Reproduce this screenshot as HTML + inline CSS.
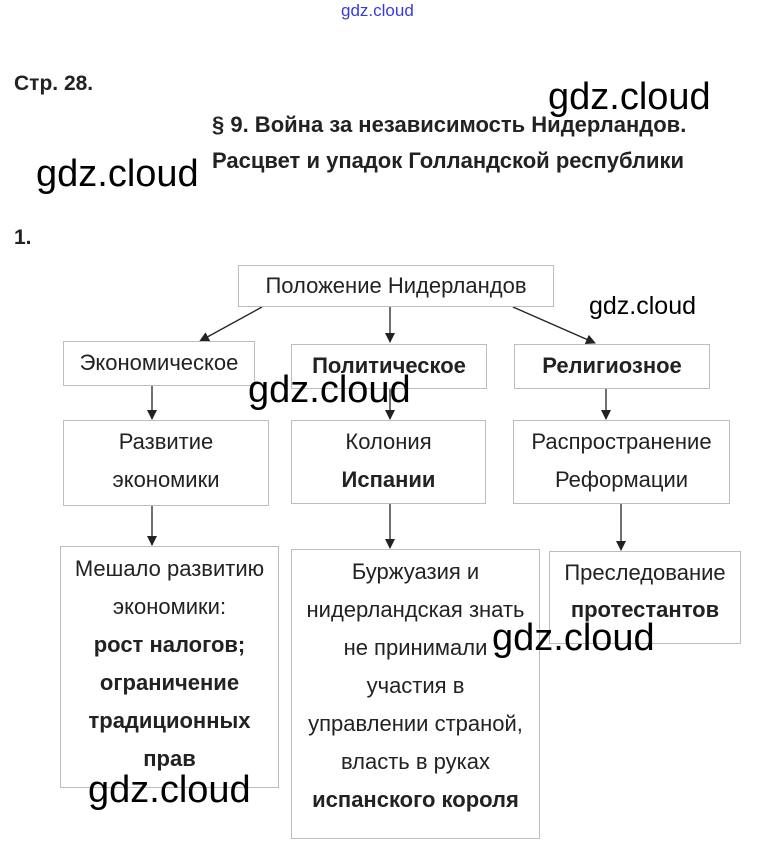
<!DOCTYPE html>
<html><head><meta charset="utf-8">
<style>
html,body{margin:0;padding:0;background:#fff;}
body{width:759px;height:854px;position:relative;overflow:hidden;font-family:"Liberation Sans",Arial,sans-serif;color:#222;}
.a{position:absolute;white-space:nowrap;}
.box{position:absolute;border:1px solid #bdbdbd;box-sizing:border-box;background:#fff;}
.t{position:absolute;left:-20px;right:-20px;text-align:center;font-size:22px;line-height:24px;white-space:nowrap;}
.b{font-weight:bold;}
.wm{position:absolute;font-family:"Liberation Sans",sans-serif;font-size:38px;color:#000;white-space:nowrap;line-height:42px;}
</style></head><body>
<div class="a" style="left:341px;top:1px;font-size:17px;color:#3a3adc;">gdz.cloud</div>
<div class="a b" style="left:14px;top:72px;font-size:21px;">Стр. 28.</div>
<div class="a b" style="left:212px;top:112px;font-size:22px;">§ 9. Война за независимость Нидерландов.</div>
<div class="a b" style="left:212px;top:148px;font-size:22px;">Расцвет и упадок Голландской республики</div>
<div class="a b" style="left:14px;top:226px;font-size:21px;">1.</div>

<svg style="position:absolute;left:0;top:0" width="759" height="854">
<defs><marker id="ar" markerWidth="10" markerHeight="10" refX="9" refY="5" orient="auto" markerUnits="userSpaceOnUse"><path d="M0,0 L10,5 L0,10 z" fill="#222"/></marker></defs>
<g stroke="#222" stroke-width="1.3" fill="none" marker-end="url(#ar)">
<line x1="262" y1="307" x2="200" y2="341"/>
<line x1="390" y1="307" x2="390" y2="342"/>
<line x1="513" y1="307" x2="595" y2="343"/>
<line x1="152" y1="386" x2="152" y2="419"/>
<line x1="390" y1="389" x2="390" y2="419"/>
<line x1="606" y1="389" x2="606" y2="419"/>
<line x1="152" y1="506" x2="152" y2="545"/>
<line x1="390" y1="504" x2="390" y2="548"/>
<line x1="621" y1="504" x2="621" y2="550"/>
</g></svg>

<div class="box" style="left:238px;top:265px;width:316px;height:42px;"><div class="t" style="top:8px;">Положение Нидерландов</div></div>
<div class="box" style="left:63px;top:341px;width:192px;height:45px;"><div class="t" style="top:9px;">Экономическое</div></div>
<div class="box" style="left:291px;top:344px;width:196px;height:45px;"><div class="t b" style="top:9px;">Политическое</div></div>
<div class="box" style="left:514px;top:344px;width:196px;height:45px;"><div class="t b" style="top:9px;">Религиозное</div></div>

<div class="box" style="left:63px;top:420px;width:206px;height:86px;"><div class="t" style="top:9px;">Развитие</div><div class="t" style="top:47px;">экономики</div></div>
<div class="box" style="left:291px;top:420px;width:195px;height:84px;"><div class="t" style="top:9px;">Колония</div><div class="t b" style="top:47px;">Испании</div></div>
<div class="box" style="left:513px;top:420px;width:217px;height:84px;"><div class="t" style="top:9px;">Распространение</div><div class="t" style="top:47px;">Реформации</div></div>

<div class="box" style="left:60px;top:546px;width:219px;height:242px;">
<div class="t" style="top:10px;">Мешало развитию</div>
<div class="t" style="top:48px;">экономики:</div>
<div class="t b" style="top:86px;">рост налогов;</div>
<div class="t b" style="top:124px;">ограничение</div>
<div class="t b" style="top:162px;">традиционных</div>
<div class="t b" style="top:200px;">прав</div>
</div>
<div class="box" style="left:291px;top:549px;width:249px;height:290px;">
<div class="t" style="top:10px;">Буржуазия и</div>
<div class="t" style="top:48px;">нидерландская знать</div>
<div class="t" style="top:86px;">не принимали</div>
<div class="t" style="top:124px;">участия в</div>
<div class="t" style="top:162px;">управлении страной,</div>
<div class="t" style="top:200px;">власть в руках</div>
<div class="t b" style="top:238px;">испанского короля</div>
</div>
<div class="box" style="left:549px;top:551px;width:192px;height:93px;">
<div class="t" style="top:9px;">Преследование</div>
<div class="t b" style="top:46px;">протестантов</div>
</div>

<div class="wm" style="left:548px;top:76px;">gdz.cloud</div>
<div class="wm" style="left:36px;top:153px;">gdz.cloud</div>
<div class="wm" style="left:589px;top:291px;font-size:25px;line-height:30px;">gdz.cloud</div>
<div class="wm" style="left:248px;top:369px;">gdz.cloud</div>
<div class="wm" style="left:492px;top:617px;">gdz.cloud</div>
<div class="wm" style="left:88px;top:769px;">gdz.cloud</div>
</body></html>
